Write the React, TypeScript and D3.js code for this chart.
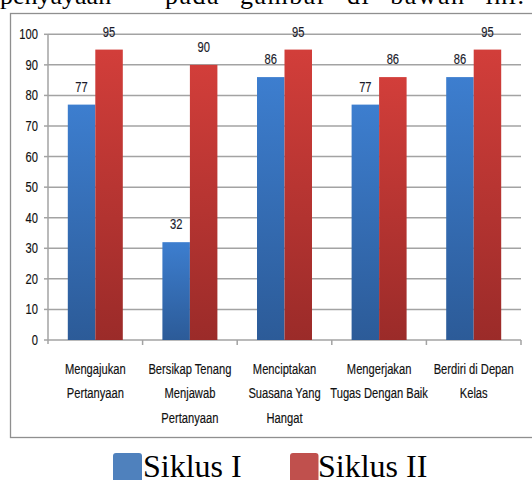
import React from "react";
import * as d3 from "d3";

const categories: string[][] = [
  ["Mengajukan", "Pertanyaan"],
  ["Bersikap Tenang", "Menjawab", "Pertanyaan"],
  ["Menciptakan", "Suasana Yang", "Hangat"],
  ["Mengerjakan", "Tugas Dengan Baik"],
  ["Berdiri di Depan", "Kelas"],
];
const siklusI = [77, 32, 86, 77, 86];
const siklusII = [95, 90, 95, 86, 95];
const yTicks = [0, 10, 20, 30, 40, 50, 60, 70, 80, 90, 100];
const seriesNames = ["Siklus I", "Siklus II"];

const W = 532;
const H = 480;
const SANS = "'Liberation Sans', Arial, sans-serif";
const SERIF = "'Liberation Serif', 'Times New Roman', serif";

function NText(props: { x: number; y: number; anchor?: string; fill?: string; children: React.ReactNode }) {
  const { x, y, anchor = "middle", fill = "#111", children } = props;
  return (
    <text
      transform={`translate(${x},${y}) scale(0.84,1.12)`}
      textAnchor={anchor}
      fontFamily={SANS}
      fontSize={13.3}
      fill={fill}
      stroke={fill}
      strokeWidth={0.15}
    >
      {children}
    </text>
  );
}

export default function App() {
  const keys = categories.map((c) => c.join(" "));
  const x = d3.scaleBand<string>().domain(keys).range([48, 521]).paddingInner(0).paddingOuter(0);
  const xs = d3.scaleBand<string>().domain(seriesNames).range([0, x.bandwidth()]).paddingInner(0).paddingOuter(0.72);
  const y = d3.scaleLinear().domain([0, 100]).range([340, 34.3]);
  const series = [siklusI, siklusII];
  const grads = ["gBlue", "gRed"];
  const x0 = 48;
  const x1 = 521;

  return (
    <svg width={W} height={H} style={{ position: "absolute", left: 0, top: 0, background: "#fff" }}>
      <defs>
        <linearGradient id="gBlue" x1="0" y1="0" x2="0" y2="1">
          <stop offset="0%" stopColor="#3d7ecf" />
          <stop offset="100%" stopColor="#2c5b98" />
        </linearGradient>
        <linearGradient id="gRed" x1="0" y1="0" x2="0" y2="1">
          <stop offset="0%" stopColor="#d23e3a" />
          <stop offset="100%" stopColor="#9b2b29" />
        </linearGradient>
      </defs>

      {/* page text cut at top */}
      <text x={0} y={4} fontFamily={SERIF} fontSize={26} fill="#000">penyayaan</text>
      <text x={165} y={4} fontFamily={SERIF} fontSize={26} fill="#000" letterSpacing={1.5} wordSpacing={12}>
        pada gambar di bawah ini.
      </text>

      {/* chart frame */}
      <rect x={10.5} y={13.5} width={530} height={424} fill="none" stroke="#8f8f8f" strokeWidth={1.3} />

      {/* gridlines */}
      {yTicks.map((t) => (
        <g key={t}>
          {t > 0 && <line x1={x0} x2={x1} y1={y(t)} y2={y(t)} stroke="#a3a3a3" strokeWidth={1.5} />}
          <line x1={x0 - 4} x2={x0} y1={y(t)} y2={y(t)} stroke="#a3a3a3" strokeWidth={1.5} />
          <NText x={38} y={y(t) + 5} anchor="end">
            {t}
          </NText>
        </g>
      ))}

      {/* axes */}
      <line x1={x0} x2={x0} y1={y(100)} y2={y(0) + 4} stroke="#a3a3a3" strokeWidth={1.5} />
      <line x1={x0} x2={x1} y1={y(0)} y2={y(0)} stroke="#a3a3a3" strokeWidth={1.5} />
      {keys.map((k, i) => (
        <line
          key={"t" + i}
          x1={(x(k) as number) + x.bandwidth()}
          x2={(x(k) as number) + x.bandwidth()}
          y1={y(0)}
          y2={y(0) + 5}
          stroke="#a3a3a3"
          strokeWidth={1.5}
        />
      ))}

      {/* bars */}
      {keys.map((k, i) => (
        <g key={"b" + i}>
          {series.map((s, j) => {
            const bx = (x(k) as number) + (xs(seriesNames[j]) as number);
            const bw = xs.bandwidth();
            return (
              <g key={j}>
                <rect x={bx} y={y(s[i])} width={bw} height={y(0) - y(s[i])} fill={`url(#${grads[j]})`} />
                <NText x={bx + bw / 2} y={y(s[i]) - 13} fill="#1a1a2a">
                  {s[i]}
                </NText>
              </g>
            );
          })}
        </g>
      ))}

      {/* category labels */}
      {categories.map((lines, i) =>
        lines.map((ln, li) => (
          <NText key={"c" + i + "-" + li} x={(x(keys[i]) as number) + x.bandwidth() / 2} y={373.5 + li * 24.5}>
            {ln}
          </NText>
        ))
      )}

      {/* legend */}
      <rect x={113} y={453} width={29} height={34} rx={3} fill="#4f81bd" />
      <text x={143} y={477} fontFamily={SERIF} fontSize={32} fill="#000">{seriesNames[0]}</text>
      <rect x={290} y={453} width={28.5} height={34} rx={3} fill="#c0504d" />
      <text x={318} y={477} fontFamily={SERIF} fontSize={32} fill="#000">{seriesNames[1]}</text>
    </svg>
  );
}
